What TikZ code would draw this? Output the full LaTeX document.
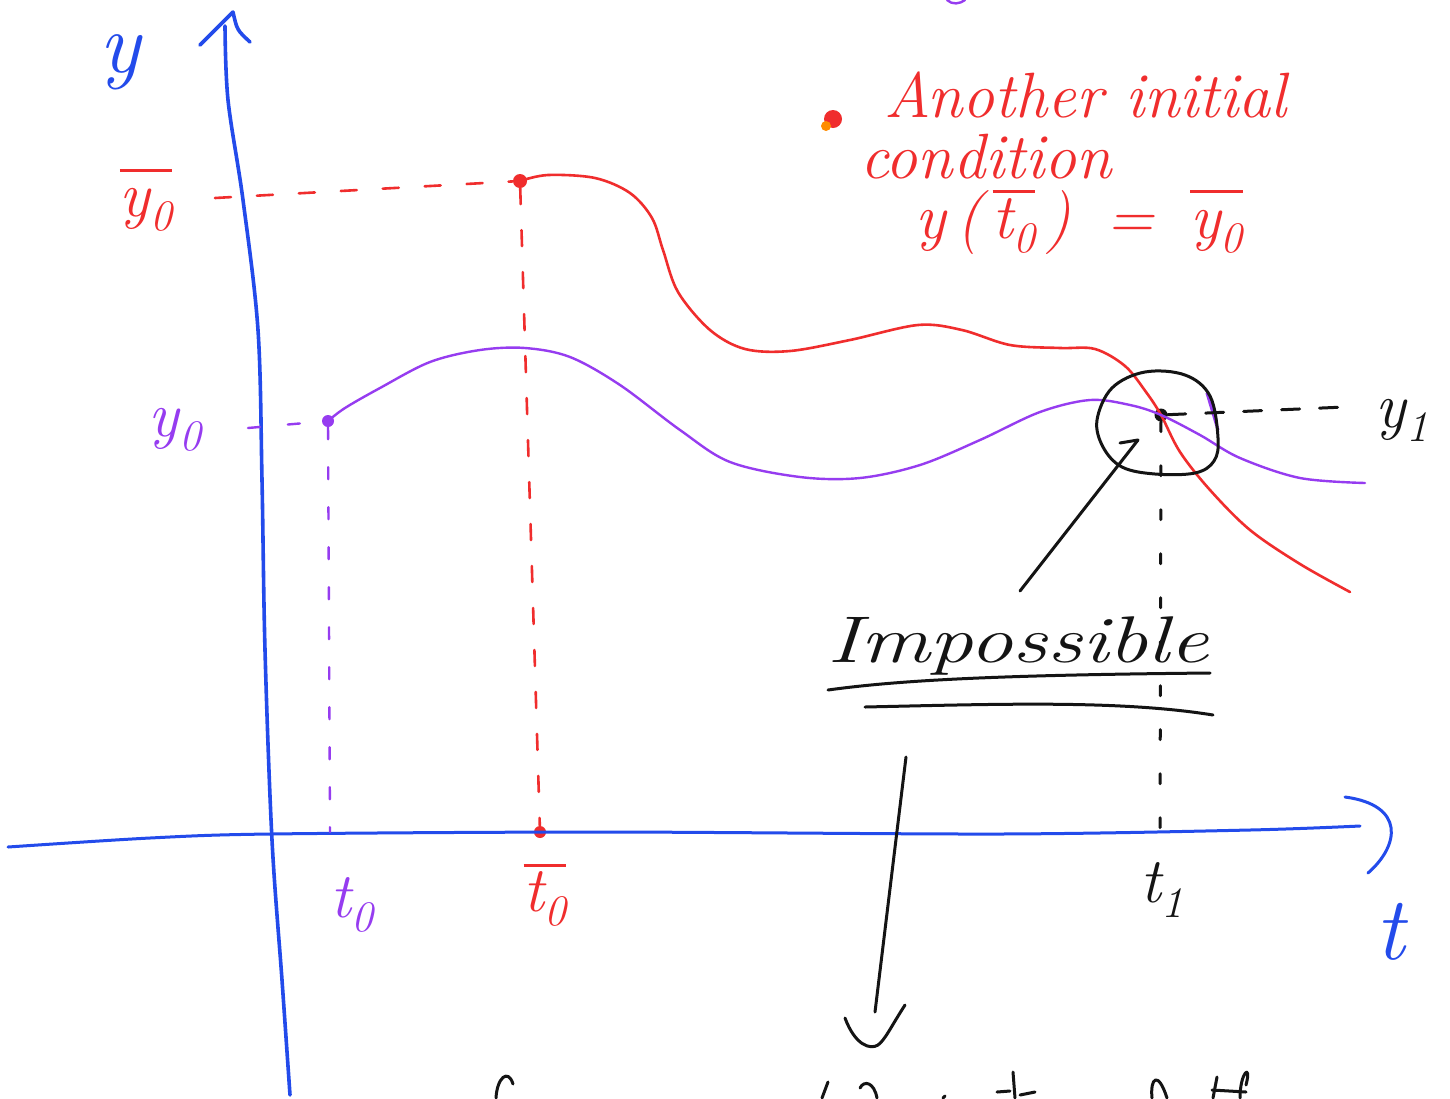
\documentclass[tikz,border=0pt]{standalone}
\usetikzlibrary{arrows.meta}
\definecolor{axb}{RGB}{35,75,235}
\definecolor{rd}{RGB}{240,45,45}
\definecolor{pu}{RGB}{150,60,240}
\definecolor{ink}{RGB}{20,20,20}
\newcommand\lsub[1]{\raisebox{-0.22em}{\scalebox{0.68}{#1}}}
\newcommand\obar[1]{\setbox0=\hbox{#1}\rlap{\raisebox{0.7em}{\rule{\wd0}{0.045em}}}\box0}
\tikzset{
  axisline/.style={draw=axb, line width=3.6pt, line cap=round, line join=round},
  redline/.style={draw=rd, line width=2.6pt, line cap=round, line join=round},
  purline/.style={draw=pu, line width=2.4pt, line cap=round, line join=round},
  inkline/.style={draw=ink, line width=3pt, line cap=round, line join=round},
  reddash/.style={redline, dash pattern=on 16pt off 26pt},
  purdash/.style={purline, dash pattern=on 12pt off 28pt},
  inkdash/.style={inkline, dash pattern=on 10pt off 34pt},
  inkhdash/.style={inkline, dash pattern=on 18pt off 20pt},
  lbl/.style={inner sep=0pt, font=\fontsize{64}{70}\selectfont\itshape},
  dotnode/.style={circle, inner sep=0pt, minimum size=#1},
}
\begin{document}
\begin{tikzpicture}[x=1pt,y=-1pt]
\useasboundingbox[fill=white] (0,0) rectangle (1450,1098);

% ---------- named points ----------
\coordinate (ybot) at (290,1095);
\coordinate (ytop) at (225,26);
\coordinate (ytip) at (233,12);
\coordinate (xleft) at (8,847);
\coordinate (xright) at (1360,826);
\node[dotnode=14pt, fill=rd] (rdot) at (520,181) {};
\node[dotnode=12pt, fill=rd] (rfoot) at (540,832) {};
\node[dotnode=12pt, fill=pu] (pdot) at (328,421) {};
\coordinate (pfoot) at (330,832);
\node[dotnode=13pt, fill=ink] (bdot) at (1161,415) {};
\coordinate (bfoot) at (1160,835);
\coordinate (rystart) at (215,198);
\coordinate (pystart) at (248,428);
\coordinate (y1end) at (1345,407);

% ---------- axes ----------
\draw[axisline] plot[smooth, tension=0.55] coordinates
  {(ybot) (282,980) (272,840) (265,650) (262,480) (258,330) (243,200) (228,100) (ytop)};
\draw[axisline] (200,45) -- (ytip) .. controls (237,30) .. (250,42);
\draw[axisline, line width=3pt] plot[smooth, tension=0.5] coordinates
  {(xleft) (150,838) (270,834) (600,832) (1000,834) (1250,830) (xright)};
\draw[axisline, line width=3pt] (1345,797) .. controls (1405,805) and (1400,845) .. (1368,873);

\node[lbl, text=axb, anchor=base, font=\fontsize{86}{92}\selectfont\itshape] (ylab) at (120,72) {y};
\node[lbl, text=axb, font=\fontsize{90}{96}\selectfont\itshape] (tlab) at (1390,932) {t};

% ---------- red (another initial condition) ----------
\draw[reddash] (rystart) -- (rdot);
\draw[reddash] (rdot) -- (rfoot);
\draw[redline] plot[smooth, tension=0.55] coordinates
  {(rdot) (548,175) (595,178) (630,193) (652,218) (663,250) (678,292) (710,330) (745,349) (790,351)
   (850,340) (918,325) (962,330) (1010,345) (1060,348) (1095,349) (1125,366) (1146,392) (bdot)
   (1180,452) (1210,490) (1250,530) (1300,564) (1350,592)};
\node[lbl, text=rd] (ybar0) at (146,200) {\obar{y\lsub{0}}};
\node[lbl, text=rd] (tbar0) at (545,895) {\obar{t\lsub{0}}};

\node[dotnode=18pt, fill=rd] (bullet) at (833,119) {};
\fill[orange!90!yellow] (826,126) circle (5pt);
\node[lbl, text=rd, anchor=base west] (txt1) at (884,117) {Another initial};
\node[lbl, text=rd, anchor=base west] (txt2) at (860,178) {condition};
\node[lbl, text=rd, anchor=base west] (txt3) at (915,238)
  {y\,(\,\obar{t\lsub{0}}\,)\;\;=\;\;\obar{y\lsub{0}}};

% ---------- purple (initial condition) ----------
\draw[purdash] (pystart) -- (pdot);
\draw[purdash] (pdot) -- (pfoot);
\draw[purline] plot[smooth, tension=0.55] coordinates
  {(pdot) (345,408) (380,388) (430,362) (480,350) (525,348) (570,357) (620,385) (680,430) (730,462)
   (800,477) (860,478) (920,465) (980,440) (1040,412) (1090,400) (1130,405) (bdot) (1200,435)
   (1240,458) (1300,478) (1365,483)};
\draw[purline, line width=3pt] (1207,393) -- (1218,430);
\node[lbl, text=pu] (y0lab) at (175,430) {y\lsub{0}};
\node[lbl, text=pu] (t0lab) at (352,905) {t\lsub{0}};
\draw[purline] (947,0) .. controls (952,5) and (960,4) .. (965,0);

% ---------- black (collision) ----------
\draw[inkline] plot[smooth cycle, tension=0.6] coordinates
  {(1097,420) (1112,388) (1145,372) (1185,375) (1210,396) (1218,438) (1214,461) (1195,473)
   (1155,474) (1122,467) (1103,447)};
\draw[inkhdash] (bdot) -- (y1end);
\draw[inkdash] (bdot) -- (bfoot);
\node[lbl, text=ink] (y1lab) at (1402,420) {y\lsub{1}};
\node[lbl, text=ink] (t1lab) at (1162,890) {t\lsub{1}};

\coordinate (arrA) at (1020,591);
\coordinate (arrB) at (1138,440);
\draw[inkline] (arrA) -- (arrB);
\draw[inkline] (1120,443) -- (arrB);

\node[lbl, text=ink, anchor=base, font=\fontsize{66}{72}\selectfont\itshape] (imp) at (1018,662)
  {\scalebox{1.32}[1]{Impossible}};
\draw[inkline] (828,690) .. controls (900,680) and (1000,675) .. (1210,673);
\draw[inkline] (865,707) .. controls (1000,704) and (1120,700) .. (1213,715);

\coordinate (dA) at (906,757);
\coordinate (dB) at (875,1012);
\draw[inkline] (dA) -- (dB);
\draw[inkline] (845,1018) .. controls (855,1045) and (870,1050) .. (878,1045) .. controls (885,1040) and (892,1025) .. (905,1005);

% partial strokes at the bottom edge
\draw[inkline] (496,1098) .. controls (497,1078) and (508,1068) .. (513,1084);
\draw[inkline] (822,1098) -- (828,1082);
\draw[inkline] (860,1088) .. controls (864,1080) and (874,1082) .. (877,1098);
\draw[inkline] (943,1098) -- (945,1096);
\draw[inkline] (997,1092) -- (1010,1091);
\draw[inkline] (1013,1072) -- (1015,1098);
\draw[inkline] (1020,1095) -- (1035,1092);
\draw[inkline] (1152,1098) .. controls (1150,1078) and (1158,1070) .. (1167,1098);
\draw[inkline] (1213,1098) -- (1217,1077);
\draw[inkline] (1240,1098) .. controls (1240,1072) and (1252,1062) .. (1246,1085);
\draw[inkline] (1212,1090) -- (1246,1092);
\end{tikzpicture}
\end{document}
